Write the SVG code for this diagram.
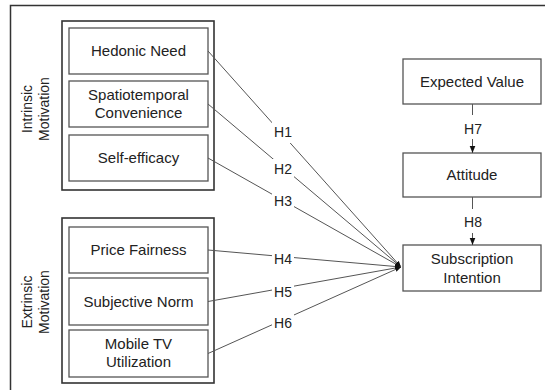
<svg xmlns="http://www.w3.org/2000/svg" width="545" height="390" viewBox="0 0 545 390">
<defs>
<marker id="ah" viewBox="0 0 10 10" refX="10" refY="5" markerWidth="6" markerHeight="6" orient="auto" markerUnits="userSpaceOnUse">
<path d="M0,1 L10,5 L0,9 Z" fill="#111"/>
</marker>
<marker id="ahs" viewBox="0 0 10 10" refX="10" refY="5" markerWidth="7" markerHeight="7" orient="auto" markerUnits="userSpaceOnUse">
<path d="M0,1 L10,5 L0,9 Z" fill="#111"/>
</marker>
</defs>
<style>
text{font-family:"Liberation Sans",Arial,sans-serif;fill:#222;}
.t{font-size:15px;text-anchor:middle;}
.r{font-size:14px;text-anchor:middle;}
.h{font-size:14px;text-anchor:middle;}
.box{fill:#fff;stroke:#555;stroke-width:1.3;}
.grp{fill:#fff;stroke:#333;stroke-width:1.6;}
.ln{stroke:#555;stroke-width:1;fill:none;}
.gap{fill:#fff;}
</style>
<rect x="0" y="0" width="545" height="390" fill="#fff"/>
<rect x="10.5" y="5.5" width="620" height="500" fill="none" stroke="#333" stroke-width="1.5"/>

<g id="intrinsic">
<rect class="grp" x="62" y="21" width="152" height="169"/>
<text class="r" transform="translate(32,109) rotate(-90)"><tspan x="0" y="0">Intrinsic</tspan><tspan x="0" y="16.5">Motivation</tspan></text>
</g>
<g id="hedonic"><rect class="box" x="69" y="28" width="139" height="46"/><text class="t" x="138.5" y="56">Hedonic Need</text></g>
<g id="spatio"><rect class="box" x="69" y="81" width="139" height="46"/><text class="t" x="138.5" y="100">Spatiotemporal</text><text class="t" x="138.5" y="118">Convenience</text></g>
<g id="selfeff"><rect class="box" x="69" y="135" width="139" height="46"/><text class="t" x="138.5" y="163">Self-efficacy</text></g>

<g id="extrinsic">
<rect class="grp" x="62" y="218" width="152" height="165"/>
<text class="r" transform="translate(32,302) rotate(-90)"><tspan x="0" y="0">Extrinsic</tspan><tspan x="0" y="16.5">Motivation</tspan></text>
</g>
<g id="price"><rect class="box" x="69" y="227" width="139" height="46"/><text class="t" x="138.5" y="255">Price Fairness</text></g>
<g id="subjnorm"><rect class="box" x="69" y="278" width="139" height="47"/><text class="t" x="138.5" y="307">Subjective Norm</text></g>
<g id="mobiletv"><rect class="box" x="69" y="330" width="139" height="47"/><text class="t" x="138.5" y="349">Mobile TV</text><text class="t" x="138.5" y="367">Utilization</text></g>

<g id="expected"><rect class="box" x="403" y="59" width="138" height="45"/><text class="t" x="472" y="87">Expected Value</text></g>
<g id="attitude"><rect class="box" x="403" y="153" width="138" height="44"/><text class="t" x="472" y="180">Attitude</text></g>
<g id="subscription"><rect class="box" x="403" y="245" width="138" height="46"/><text class="t" x="472" y="264">Subscription</text><text class="t" x="472" y="283">Intention</text></g>

<g id="connectors">
<line class="ln" x1="208" y1="51" x2="401" y2="267" marker-end="url(#ah)"/>
<line class="ln" x1="208" y1="104" x2="401" y2="267" marker-end="url(#ah)"/>
<line class="ln" x1="208" y1="158" x2="401" y2="267" marker-end="url(#ah)"/>
<line class="ln" x1="208" y1="250" x2="401" y2="267" marker-end="url(#ah)"/>
<line class="ln" x1="208" y1="301.5" x2="401" y2="267" marker-end="url(#ah)"/>
<line class="ln" x1="208" y1="353.5" x2="401" y2="267" marker-end="url(#ah)"/>
<line class="ln" x1="472.5" y1="104" x2="472.5" y2="153" marker-end="url(#ahs)"/>
<line class="ln" x1="472.5" y1="197" x2="472.5" y2="245" marker-end="url(#ahs)"/>
<rect class="gap" x="272" y="122" width="22" height="21"/>
<rect class="gap" x="272" y="159" width="22" height="20"/>
<rect class="gap" x="272" y="192" width="22" height="19"/>
<rect class="gap" x="272" y="251" width="22" height="15"/>
<rect class="gap" x="272" y="284" width="22" height="16"/>
<rect class="gap" x="272" y="314" width="22" height="18"/>
<rect class="gap" x="462" y="115" width="22" height="24"/>
<rect class="gap" x="462" y="209" width="22" height="24"/>
<text class="h" x="283" y="137">H1</text>
<text class="h" x="283" y="174">H2</text>
<text class="h" x="283" y="206">H3</text>
<text class="h" x="283" y="264">H4</text>
<text class="h" x="283" y="297">H5</text>
<text class="h" x="283" y="328">H6</text>
<text class="h" x="473" y="134">H7</text>
<text class="h" x="473" y="227">H8</text>
</g>
</svg>
